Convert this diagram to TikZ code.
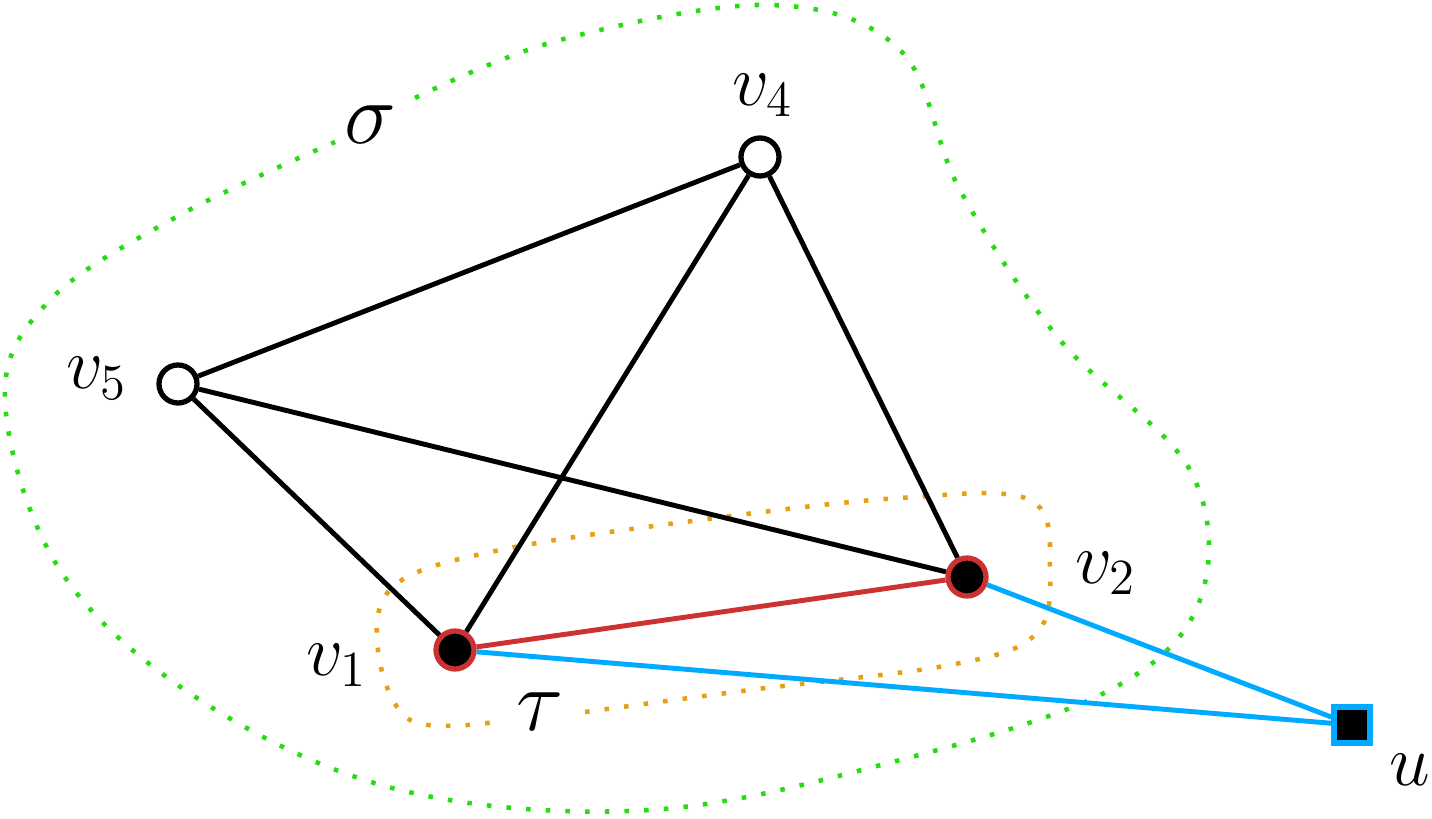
\documentclass[tikz,border=0pt]{standalone}
\begin{document}
\begin{tikzpicture}[x=0.01cm,y=-0.01cm,
 vtx/.style={circle,draw,line width=1.5pt,minimum size=0.38cm,inner sep=0pt},
 wv/.style={vtx,fill=white},
 rv/.style={vtx,fill=black,draw={rgb,255:red,205;green,50;blue,50}},
 lab/.style={font=\fontsize{22}{26}\selectfont},
 big/.style={font=\fontsize{34}{40}\selectfont},
 ed/.style={line width=1.4pt},
 gdot/.style={line width=1.3pt,dash pattern=on 1.3pt off 4.3pt,color={rgb,255:red,40;green,220;blue,20}},
 odot/.style={line width=1.3pt,dash pattern=on 1.3pt off 4.3pt,color={rgb,255:red,230;green,160;blue,20}}]
\useasboundingbox (0,0) rectangle (1432,819);
\definecolor{cb}{RGB}{0,170,255}
\definecolor{rd}{RGB}{205,50,50}
\draw[gdot] plot[smooth,tension=0.6] coordinates {(415,98) (560,40) (770,5) (900,50) (960,190) (1060,340) (1190,470) (1200,600) (1110,690) (900,760) (650,810) (400,790) (200,700) (60,570) (5,400) (50,300) (180,215) (335,142)};
\draw[odot] plot[smooth,tension=0.6] coordinates {(585,712) (750,690) (950,665) (1035,635) (1050,570) (1030,500) (900,498) (700,520) (500,550) (395,585) (378,650) (410,720) (495,722)};
\node[wv] (v4) at (760,157) {};
\node[wv] (v5) at (178,384) {};
\node[rv] (v1) at (455,650) {};
\node[rv] (v2) at (967,577) {};
\node[rectangle,draw=cb,fill=black,line width=1.5pt,minimum size=0.36cm,inner sep=0pt] (u) at (1352,725) {};
\draw[ed] (v5)--(v4) (v5)--(v2) (v5)--(v1) (v1)--(v4) (v4)--(v2);
\draw[ed,rd] (v1)--(v2);
\draw[ed,cb] (v1)--(u) (v2)--(u);
\node[lab] (l4) at (763,95) {$v_4$};
\node[lab] (l5) at (97,378) {$v_5$};
\node[lab] (l1) at (337,665) {$v_1$};
\node[lab] (l2) at (1106,573) {$v_2$};
\node[lab] (lu) at (1410,770) {$u$};
\node[big] (s) at (370,125) {$\sigma$};
\node[big] (t) at (540,712) {$\tau$};
\end{tikzpicture}
\end{document}
